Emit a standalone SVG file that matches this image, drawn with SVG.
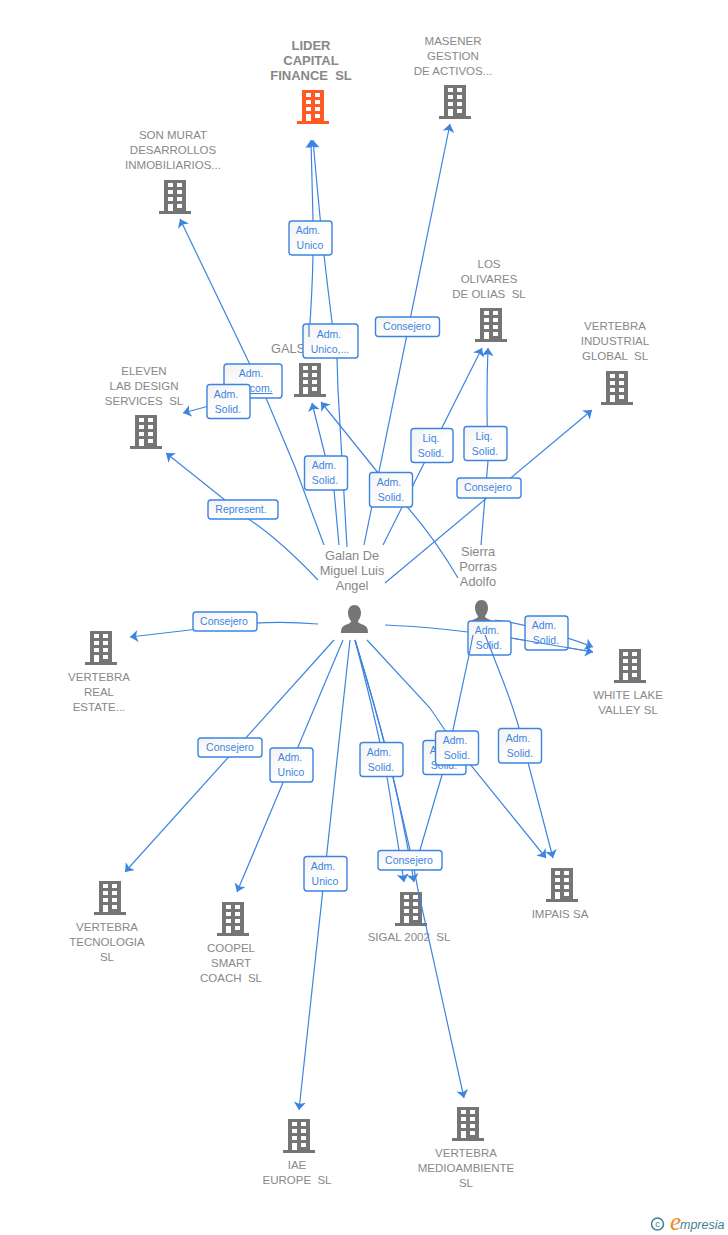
<svg xmlns="http://www.w3.org/2000/svg" width="728" height="1235" viewBox="0 0 728 1235">
<style>
.c{fill:none;stroke:#3d84e0;stroke-width:1.2;marker-end:url(#a)}
.s{fill:none;stroke:#3d84e0;stroke-width:1.2}
.b{fill:url(#g);stroke:#3d84e0;stroke-width:1.4}
.t{font:10.5px "Liberation Sans",Arial,sans-serif;fill:#3d84e0;text-anchor:middle}
.n{font:11.5px "Liberation Sans",Arial,sans-serif;fill:#888;text-anchor:middle;white-space:pre}
.l{font:bold 13px "Liberation Sans",Arial,sans-serif;fill:#888;text-anchor:middle;white-space:pre}
.p{font:12.8px "Liberation Sans",Arial,sans-serif;fill:#888;text-anchor:middle}
</style>
<defs>
<linearGradient id="g" x1="0" y1="0" x2="1" y2="1"><stop offset="0" stop-color="#f2f2f2"/><stop offset="0.6" stop-color="#fff"/></linearGradient>
<marker id="a" markerUnits="userSpaceOnUse" markerWidth="8" markerHeight="12" refX="8" refY="6" orient="auto" viewBox="0 0 8 12"><path d="M8 6L0 0L2 6L0 12Z" fill="#3d84e0"/></marker>
<path id="bd" fill-rule="evenodd" d="M5 0H27V31H32V34H0V31H5ZM9 3V7H14V3ZM18 3V7H23V3ZM9 10V14H14V10ZM18 10V14H23V10ZM9 17V21H14V17ZM18 17V21H23V17ZM9 24V31H14V24ZM18 24V28H23V24Z"/>
<path id="pr" d="M13.500 0C17.500 0 20 3.500 20 8C20 11.500 18.500 14 17 16C17 17.500 18 18 20 19C24 20.500 27 21 27 28H0C0 21 3 20.500 7 19C9 18 10 17.500 10 16C8.500 14 7 11.500 7 8C7 3.500 9.500 0 13.500 0Z"/>
</defs>
<rect width="728" height="1235" fill="#fff"/>

<g id="lider"><use href="#bd" x="297" y="90" fill="#ff5a26"/><text class="l"><tspan x="311" y="50">LIDER</tspan><tspan x="311" y="65">CAPITAL</tspan><tspan x="311" y="80">FINANCE  SL</tspan></text></g>
<g id="masener"><use href="#bd" x="439" y="85" fill="#757575"/><text class="n"><tspan x="453" y="45">MASENER</tspan><tspan x="453" y="60">GESTION</tspan><tspan x="453" y="75">DE ACTIVOS...</tspan></text></g>
<g id="sonmurat"><use href="#bd" x="159" y="180" fill="#757575"/><text class="n"><tspan x="173" y="139">SON MURAT</tspan><tspan x="173" y="154">DESARROLLOS</tspan><tspan x="173" y="169">INMOBILIARIOS...</tspan></text></g>
<g id="olivares"><use href="#bd" x="475" y="308" fill="#757575"/><text class="n"><tspan x="489" y="268">LOS</tspan><tspan x="489" y="283">OLIVARES</tspan><tspan x="489" y="298">DE OLIAS  SL</tspan></text></g>
<g id="industrial"><use href="#bd" x="601" y="371" fill="#757575"/><text class="n"><tspan x="615" y="330">VERTEBRA</tspan><tspan x="615" y="345">INDUSTRIAL</tspan><tspan x="615" y="360">GLOBAL  SL</tspan></text></g>
<g id="gals"><use href="#bd" x="294" y="363" fill="#757575"/><text class="p" x="288" y="353">GALS</text></g>
<g id="eleven"><use href="#bd" x="130" y="415" fill="#757575"/><text class="n"><tspan x="144" y="375">ELEVEN</tspan><tspan x="144" y="390">LAB DESIGN</tspan><tspan x="144" y="405">SERVICES  SL</tspan></text></g>
<g id="real"><use href="#bd" x="85" y="631" fill="#757575"/><text class="n"><tspan x="99" y="681">VERTEBRA</tspan><tspan x="99" y="696">REAL</tspan><tspan x="99" y="711">ESTATE...</tspan></text></g>
<g id="whitelake"><use href="#bd" x="614" y="649" fill="#757575"/><text class="n"><tspan x="628" y="699">WHITE LAKE</tspan><tspan x="628" y="714">VALLEY SL</tspan></text></g>
<g id="impais"><use href="#bd" x="546" y="868" fill="#757575"/><text class="n" x="560" y="918">IMPAIS SA</text></g>
<g id="sigal"><use href="#bd" x="395" y="892" fill="#757575"/><text class="n" x="409" y="941">SIGAL 2002  SL</text></g>
<g id="tecnologia"><use href="#bd" x="94" y="881" fill="#757575"/><text class="n"><tspan x="107" y="931">VERTEBRA</tspan><tspan x="107" y="946">TECNOLOGIA</tspan><tspan x="107" y="961">SL</tspan></text></g>
<g id="coopel"><use href="#bd" x="217" y="902" fill="#757575"/><text class="n"><tspan x="231" y="952">COOPEL</tspan><tspan x="231" y="967">SMART</tspan><tspan x="231" y="982">COACH  SL</tspan></text></g>
<g id="iae"><use href="#bd" x="283" y="1119" fill="#757575"/><text class="n"><tspan x="297" y="1169">IAE</tspan><tspan x="297" y="1184">EUROPE  SL</tspan></text></g>
<g id="medio"><use href="#bd" x="452" y="1107" fill="#757575"/><text class="n"><tspan x="466" y="1157">VERTEBRA</tspan><tspan x="466" y="1172">MEDIOAMBIENTE</tspan><tspan x="466" y="1187">SL</tspan></text></g>
<g id="galan"><use href="#pr" x="341" y="605" fill="#757575"/><text class="p"><tspan x="352" y="560">Galan De</tspan><tspan x="352" y="575">Miguel Luis</tspan><tspan x="352" y="590">Angel</tspan></text></g>
<g id="sierra"><use href="#pr" x="468" y="600" fill="#757575"/><text class="p"><tspan x="478" y="556">Sierra</tspan><tspan x="478" y="571">Porras</tspan><tspan x="478" y="586">Adolfo</tspan></text></g>

<g id="connectors">
<path class="c" d="M347 547L338 390L337 358L332 322Q328 290 324 255Q320 220 313 140"/>
<path class="c" d="M309 337Q314 270 313 220L311 140"/>
<path class="c" d="M324 545L295 467L266 398L180 219"/>
<path class="c" d="M250 395L183 413"/>
<path class="c" d="M318 580Q280 540 250 520L166 453"/>
<path class="c" d="M364 545L450 124"/>
<path class="c" d="M458 578Q430 530 391 489L321 402"/>
<path class="c" d="M339 545L334 490Q328 470 325 455L312 403"/>
<path class="c" d="M383 545L482 348"/>
<path class="c" d="M481 545L488 461Q486 400 488 348"/>
<path class="c" d="M385 583L592 410"/>
<path class="c" d="M385 625Q440 627 511 638L593 652"/>
<path class="c" d="M495 620Q530 624 593 647"/>
<path class="c" d="M367 640L430 708L457 748L546 858"/>
<path class="c" d="M473 635L469 655L453 730L442 775L420 850L417 865"/>
<path class="c" d="M485 635L498 668Q512 703 519 728L553 858"/>
<path class="c" d="M355 640Q375 715 387 777L399 850L404 882"/>
<path class="c" d="M355 640Q378 715 393 777Q403 820 414 882"/>
<path class="c" d="M355 640Q378 715 393 777L410 850Q414 868 418 890L464 1098"/>
<path class="c" d="M334 640L125 872"/>
<path class="c" d="M343 640L237 892"/>
<path class="c" d="M350 640L299 1110"/>
<path class="c" d="M318 624Q270 620 224 626L130 637"/>
</g>

<g id="labels">
<rect class="b" x="289" y="221" width="43" height="34" rx="3"/><text class="t"><tspan x="308" y="234">Adm.</tspan><tspan x="310" y="249">Unico</tspan></text>
<rect class="b" x="375.500" y="317" width="64" height="19.500" rx="3"/><text class="t" x="407" y="330">Consejero</text>
<rect class="b" x="303" y="324" width="55" height="34" rx="3"/><text class="t"><tspan x="329" y="338">Adm.</tspan><tspan x="330" y="353">Unico,...</tspan></text>
<rect class="b" x="224" y="364" width="58" height="34" rx="3"/><text class="t"><tspan x="251" y="377">Adm.</tspan><tspan x="251" y="392" text-decoration="underline">Mancom.</tspan></text>
<rect class="b" x="207" y="384.500" width="43" height="34" rx="3"/><text class="t"><tspan x="226" y="398">Adm.</tspan><tspan x="228" y="413">Solid.</tspan></text>
<rect class="b" x="411" y="428.500" width="42" height="34" rx="3"/><text class="t"><tspan x="431" y="442">Liq.</tspan><tspan x="431" y="457">Solid.</tspan></text>
<rect class="b" x="464" y="426.500" width="43" height="34" rx="3"/><text class="t"><tspan x="484" y="440">Liq.</tspan><tspan x="485" y="455">Solid.</tspan></text>
<rect class="b" x="457" y="478" width="64" height="20" rx="3"/><text class="t" x="488" y="491">Consejero</text>
<rect class="b" x="369.500" y="472.500" width="43" height="34.500" rx="3"/><text class="t"><tspan x="389" y="486">Adm.</tspan><tspan x="391" y="501">Solid.</tspan></text>
<rect class="b" x="304.500" y="456" width="43" height="34" rx="3"/><text class="t"><tspan x="324" y="469">Adm.</tspan><tspan x="325" y="484">Solid.</tspan></text>
<rect class="b" x="208" y="500" width="70" height="19" rx="3"/><text class="t" x="241" y="513">Represent.</text>
<rect class="b" x="193" y="612" width="64" height="19" rx="3"/><text class="t" x="224" y="625">Consejero</text>
<rect class="b" x="525" y="616" width="43" height="34" rx="3"/><text class="t"><tspan x="544" y="629">Adm.</tspan><tspan x="546" y="644">Solid.</tspan></text>
<rect class="b" x="468" y="621" width="43" height="34" rx="3"/><text class="t"><tspan x="487" y="634">Adm.</tspan><tspan x="489" y="649">Solid.</tspan></text>
<rect class="b" x="423" y="740.500" width="43" height="34" rx="3"/><text class="t"><tspan x="442" y="754">Adm.</tspan><tspan x="444" y="769">Solid.</tspan></text>
<rect class="b" x="435.500" y="731" width="43" height="34" rx="3"/><text class="t"><tspan x="455" y="744">Adm.</tspan><tspan x="457" y="759">Solid.</tspan></text>
<rect class="b" x="360" y="742.500" width="43" height="34" rx="3"/><text class="t"><tspan x="379" y="756">Adm.</tspan><tspan x="381" y="771">Solid.</tspan></text>
<rect class="b" x="498.500" y="728.500" width="43" height="34.500" rx="3"/><text class="t"><tspan x="518" y="742">Adm.</tspan><tspan x="520" y="757">Solid.</tspan></text>
<rect class="b" x="378" y="850.500" width="64" height="19.500" rx="3"/><text class="t" x="409" y="864">Consejero</text>
<rect class="b" x="198" y="738" width="64" height="19" rx="3"/><text class="t" x="230" y="751">Consejero</text>
<rect class="b" x="270" y="748" width="43" height="34" rx="3"/><text class="t"><tspan x="290" y="761">Adm.</tspan><tspan x="291" y="776">Unico</tspan></text>
<rect class="b" x="304" y="856.500" width="43" height="34.500" rx="3"/><text class="t"><tspan x="323" y="870">Adm.</tspan><tspan x="325" y="885">Unico</tspan></text>
</g>

<g id="overlay">
<path class="s" d="M309 324V337"/>
<path class="s" d="M473 635L469 655"/>
<path class="s" d="M485 635L493 655"/>
<path class="s" d="M511 638L593 652"/>
</g>

<g id="logo">
<circle cx="657.500" cy="1224" r="6" fill="none" stroke="#3f7f93" stroke-width="1.500"/>
<text x="657.500" y="1227" font-family="'Liberation Sans',sans-serif" font-size="9" fill="#3f7f93" text-anchor="middle">c</text>
<text x="670" y="1230" font-family="'Liberation Serif',serif" font-style="italic" font-size="25" fill="#f08a1d">e</text>
<text x="680" y="1229" font-family="'Liberation Sans',sans-serif" font-style="italic" font-size="12.500" fill="#3f7f93">mpresia</text>
</g>
</svg>
